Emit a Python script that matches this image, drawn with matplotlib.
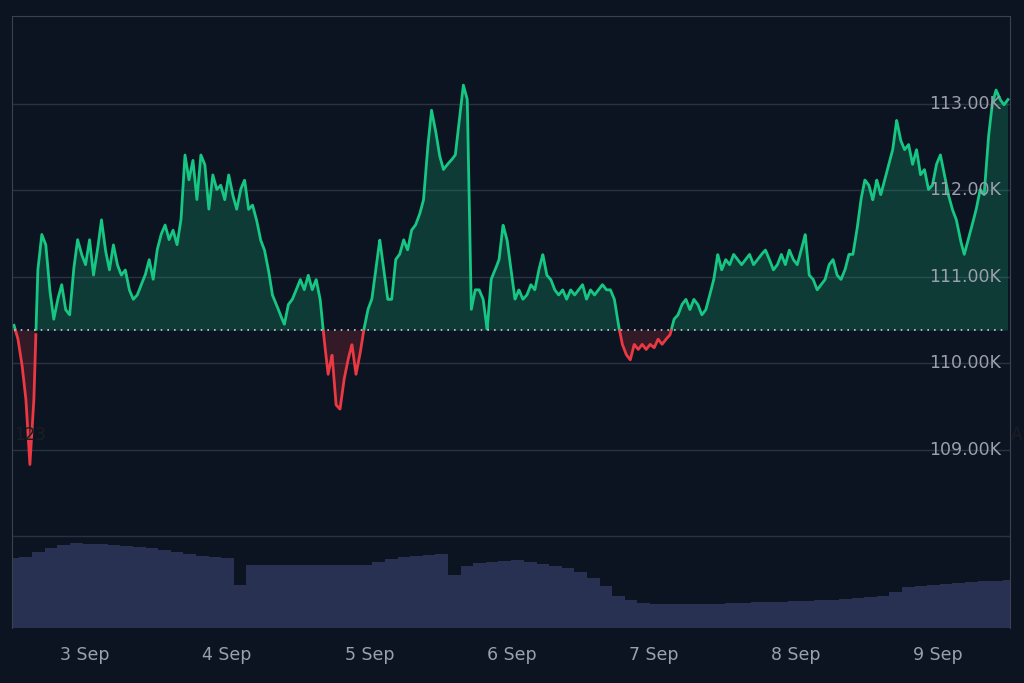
import numpy as np
import matplotlib.pyplot as plt

# price in thousands, sampled evenly from 2 Sep 12:00 to 9 Sep ~11:45
price = [110.44, 110.28, 109.99, 109.58, 108.83, 109.58, 111.08, 111.49, 111.37, 110.85,
         110.51, 110.74, 110.91, 110.62, 110.56, 111.08, 111.43, 111.26, 111.14, 111.43,
         111.02, 111.31, 111.66, 111.31, 111.08, 111.37, 111.14, 111.02, 111.08, 110.85,
         110.74, 110.79, 110.91, 111.02, 111.20, 110.97, 111.31, 111.49, 111.60, 111.43,
         111.54, 111.37, 111.66, 112.41, 112.12, 112.35, 111.89, 112.41, 112.30, 111.78,
         112.18, 112.01, 112.06, 111.89, 112.18, 111.95, 111.78, 112.01, 112.12, 111.78,
         111.83, 111.66, 111.43, 111.31, 111.08, 110.79, 110.68, 110.56, 110.45, 110.68,
         110.74, 110.85, 110.97, 110.85, 111.02, 110.85, 110.97, 110.74, 110.28, 109.87,
         110.10, 109.52, 109.47, 109.81, 110.04, 110.22, 109.87, 110.10, 110.39, 110.62,
         110.74, 111.08, 111.43, 111.08, 110.74, 110.74, 111.20, 111.26, 111.43, 111.31,
         111.54, 111.60, 111.72, 111.89, 112.47, 112.93, 112.70, 112.41, 112.24, 112.30,
         112.35, 112.41, 112.81, 113.22, 113.05, 110.62, 110.85, 110.85, 110.74, 110.39,
         110.97, 111.08, 111.20, 111.60, 111.43, 111.08, 110.74, 110.85, 110.74, 110.79,
         110.91, 110.85, 111.08, 111.26, 111.02, 110.97, 110.85, 110.79, 110.85, 110.74,
         110.85, 110.79, 110.85, 110.91, 110.74, 110.85, 110.79, 110.85, 110.91, 110.85,
         110.85, 110.74, 110.45, 110.22, 110.10, 110.04, 110.22, 110.16, 110.22, 110.16,
         110.22, 110.18, 110.28, 110.22, 110.28, 110.33, 110.51, 110.56, 110.68, 110.74,
         110.62, 110.74, 110.68, 110.56, 110.62, 110.79, 110.97, 111.26, 111.08, 111.20,
         111.14, 111.26, 111.20, 111.14, 111.20, 111.26, 111.14, 111.20, 111.26, 111.31,
         111.20, 111.08, 111.14, 111.26, 111.14, 111.31, 111.20, 111.14, 111.31, 111.49,
         111.02, 110.97, 110.85, 110.91, 110.97, 111.14, 111.20, 111.02, 110.97, 111.08,
         111.26, 111.26, 111.54, 111.89, 112.12, 112.06, 111.89, 112.12, 111.95, 112.12,
         112.30, 112.47, 112.81, 112.58, 112.47, 112.53, 112.30, 112.47, 112.18, 112.24,
         112.01, 112.06, 112.30, 112.41, 112.18, 111.95, 111.78, 111.66, 111.43, 111.26,
         111.43, 111.60, 111.78, 112.01, 111.95, 112.58, 112.99, 113.16, 113.05, 112.99,
         113.05]
base_price = 110.38
start_day, end_day = 2.501, 9.491

# volume, arbitrary units
volume = [70, 71, 76, 80, 83, 85, 84, 84, 83, 82, 81, 80, 78, 76, 74, 72, 71, 70, 43, 63,
          63, 63, 63, 63, 63, 63, 63, 63, 63, 66, 69, 71, 72, 73, 74, 53, 62, 65, 66, 67,
          68, 66, 64, 62, 60, 56, 50, 42, 32, 28, 25, 24, 24, 24, 24, 24, 24, 25, 25, 26,
          26, 26, 27, 27, 28, 28, 29, 30, 31, 32, 36, 41, 42, 43, 44, 45, 46, 47, 47, 48]

tick_days = [3, 4, 5, 6, 7, 8, 9]
tick_labels = ['3 Sep', '4 Sep', '5 Sep', '6 Sep', '7 Sep', '8 Sep', '9 Sep']
y_labels = [109, 110, 111, 112, 113]

bg = '#0d1421'
green = '#16c784'
red = '#ea3943'
grid_c = '#2a3140'

fig = plt.figure(figsize=(10.24, 6.83), dpi=100, facecolor=bg)
ax = fig.add_axes([12/1024, 55/683, 998/1024, 612/683])
ax.set_facecolor(bg)

t = np.linspace(start_day, end_day, len(price))
p = np.array(price)
# finer grid so colour switches at the baseline crossing
tf = np.linspace(start_day, end_day, 6000)
pf = np.interp(tf, t, p)
above = pf >= base_price

# volume bars on their own scale
axv = ax.twinx()
tv = np.linspace(2.495, 9.50, len(volume))
axv.bar(tv, volume, width=(tv[1] - tv[0]) * 1.02, color='#283152', linewidth=0)
axv.set_ylim(0, 612)
axv.axis('off')
ax.set_zorder(axv.get_zorder() + 1)
ax.patch.set_visible(False)

ax.fill_between(tf, pf, base_price, where=above, color=green, alpha=0.22, linewidth=0)
ax.fill_between(tf, pf, base_price, where=~above, color=red, alpha=0.18, linewidth=0)
ax.plot(tf, np.where(above, pf, np.nan), color=green, lw=2)
ax.plot(tf, np.where(~above, pf, np.nan), color=red, lw=2)
ax.plot([start_day, 9.48], [base_price, base_price], color='#c8ccd4', lw=1.2, ls=(0, (1, 3)))

for v in [108, 109, 110, 111, 112, 113]:
    ax.axhline(v, color=grid_c, lw=1, zorder=0)
for v in y_labels:
    ax.text(9.44, v, f'{v}.00K', color='#9aa0ac', fontsize=12.5, ha='right', va='center')

ax.text(2.505, 109.17, '123', color='#1a1d24', fontsize=12, ha='left', va='center')
ax.text(9.51, 109.17, 'A', color='#1a1d24', fontsize=12, ha='left', va='center', clip_on=False)

ax.set_xlim(2.487, 9.505)
ax.set_ylim(106.94, 114.016)
ax.set_yticks([])
ax.set_xticks(tick_days)
ax.set_xticklabels(tick_labels, color='#9aa0ac', fontsize=12.5)
ax.tick_params(axis='x', length=0, pad=13)
for s in ['left', 'right', 'top']:
    ax.spines[s].set_color('#3a4150')
ax.spines['bottom'].set_visible(False)

fig.savefig('out.png', dpi=100, facecolor=bg)
